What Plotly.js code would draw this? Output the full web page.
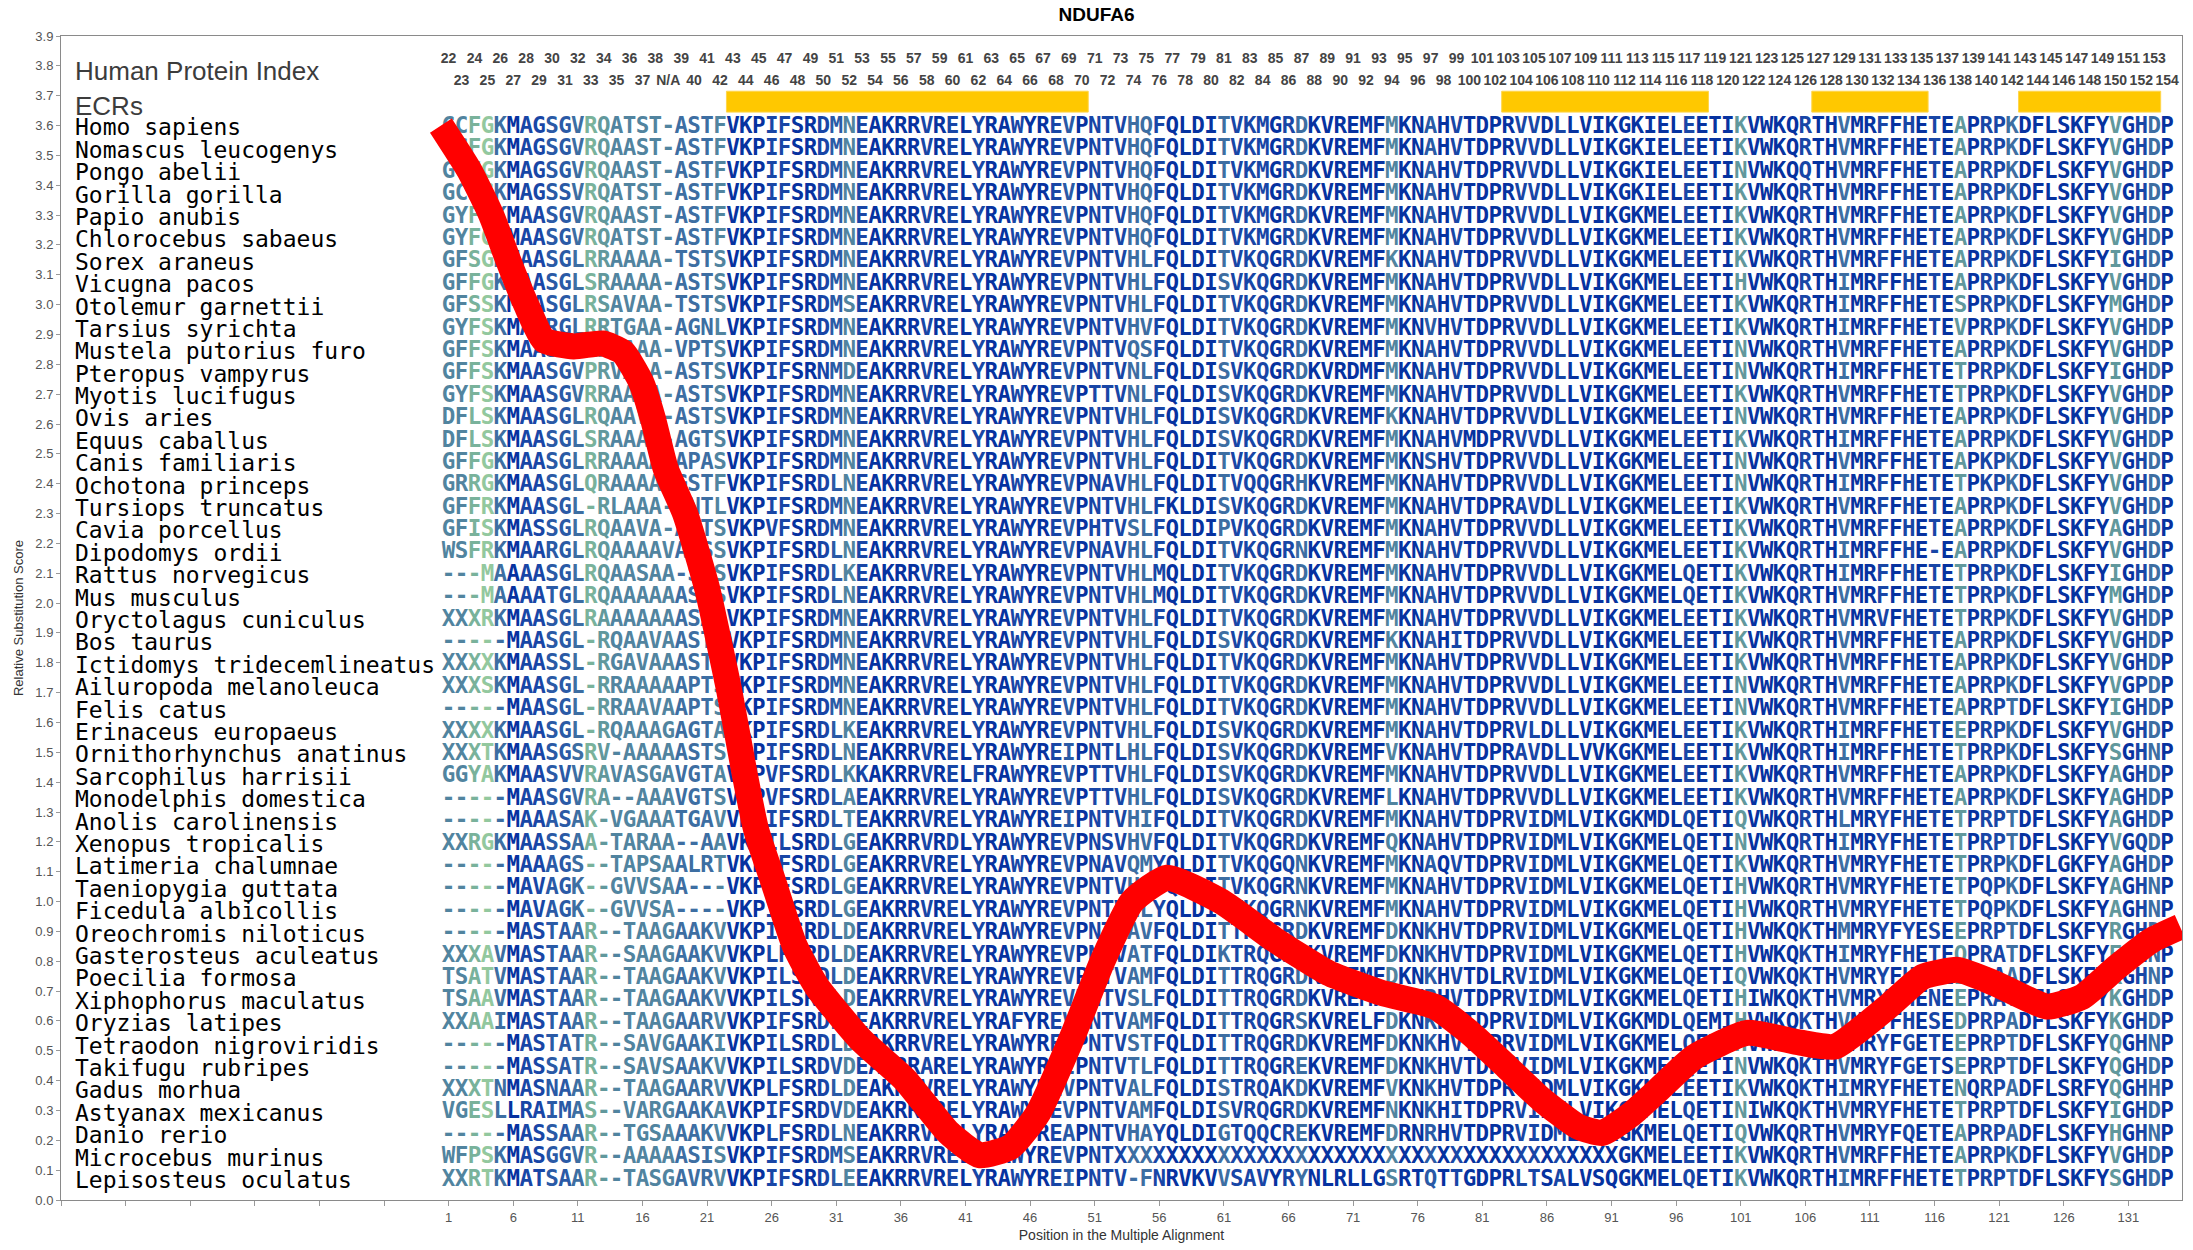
<!DOCTYPE html>
<html><head><meta charset="utf-8">
<script src="https://cdn.plot.ly/plotly-3.0.1.min.js"></script>
<style>html,body{margin:0;padding:0;background:#fff}#chart{width:2193px;height:1250px}</style>
</head><body><div id="chart"></div>
<script>
// ---------------- data ----------------
const species = ["Homo sapiens","Nomascus leucogenys","Pongo abelii","Gorilla gorilla","Papio anubis","Chlorocebus sabaeus","Sorex araneus","Vicugna pacos","Otolemur garnettii","Tarsius syrichta","Mustela putorius furo","Pteropus vampyrus","Myotis lucifugus","Ovis aries","Equus caballus","Canis familiaris","Ochotona princeps","Tursiops truncatus","Cavia porcellus","Dipodomys ordii","Rattus norvegicus","Mus musculus","Oryctolagus cuniculus","Bos taurus","Ictidomys tridecemlineatus","Ailuropoda melanoleuca","Felis catus","Erinaceus europaeus","Ornithorhynchus anatinus","Sarcophilus harrisii","Monodelphis domestica","Anolis carolinensis","Xenopus tropicalis","Latimeria chalumnae","Taeniopygia guttata","Ficedula albicollis","Oreochromis niloticus","Gasterosteus aculeatus","Poecilia formosa","Xiphophorus maculatus","Oryzias latipes","Tetraodon nigroviridis","Takifugu rubripes","Gadus morhua","Astyanax mexicanus","Danio rerio","Microcebus murinus","Lepisosteus oculatus"];

const sequences = [
"GCFGKMAGSGVRQATST-ASTF"+"VKPIFSRDMNEAKRRVRELYRAWYREVP"+"NTVHQFQLDITVKMGRDKVREMFMKNAHVTDPRVVDLLVIKGK"+"IELEETIKVWKQRTHVMRFFHETEAPRPKDFLSKFYVGHDP",
"GCFGKMAGSGVRQAAST-ASTF"+"VKPIFSRDMNEAKRRVRELYRAWYREVP"+"NTVHQFQLDITVKMGRDKVREMFMKNAHVTDPRVVDLLVIKGK"+"IELEETIKVWKQRTHVMRFFHETEAPRPKDFLSKFYVGHDP",
"GCFGKMAGSGVRQAAST-ASTF"+"VKPIFSRDMNEAKRRVRELYRAWYREVP"+"NTVHQFQLDITVKMGRDKVREMFMKNAHVTDPRVVDLLVIKGK"+"IELEETINVWKQQTHVMRFFHETEAPRPKDFLSKFYVGHDP",
"GCFGKMAGSSVRQATST-ASTF"+"VKPIFSRDMNEAKRRVRELYRAWYREVP"+"NTVHQFQLDITVKMGRDKVREMFMKNAHVTDPRVVDLLVIKGK"+"IELEETIKVWKQRTHVMRFFHETEAPRPKDFLSKFYVGHDP",
"GYFGKMAASGVRQAAST-ASTF"+"VKPIFSRDMNEAKRRVRELYRAWYREVP"+"NTVHQFQLDITVKMGRDKVREMFMKNAHVTDPRVVDLLVIKGK"+"MELEETIKVWKQRTHVMRFFHETEAPRPKDFLSKFYVGHDP",
"GYFGKMAASGVRQATST-ASTF"+"VKPIFSRDMNEAKRRVRELYRAWYREVP"+"NTVHQFQLDITVKMGRDKVREMFMKNAHVTDPRVVDLLVIKGK"+"MELEETIKVWKQRTHVMRFFHETEAPRPKDFLSKFYVGHDP",
"GFSGKMAASGLRRAAAA-TSTS"+"VKPIFSRDMNEAKRRVRELYRAWYREVP"+"NTVHLFQLDITVKQGRDKVREMFKKNAHVTDPRVVDLLVIKGK"+"MELEETIKVWKQRTHVMRFFHETEAPRPKDFLSKFYIGHDP",
"GFFGKMAASGLSRAAAA-ASTS"+"VKPIFSRDMNEAKRRVRELYRAWYREVP"+"NTVHLFQLDISVKQGRDKVREMFMKNAHVTDPRVVDLLVIKGK"+"MELEETIHVWKQRTHIMRFFHETEAPRPKDFLSKFYVGHDP",
"GFSSKMAASGLRSAVAA-TSTS"+"VKPIFSRDMSEAKRRVRELYRAWYREVP"+"NTVHLFQLDITVKQGRDKVREMFMKNAHVTDPRVVDLLVIKGK"+"MELEETIKVWKQRTHIMRFFHETESPRPKDFLSKFYMGHDP",
"GYFSKMAARGLRRTGAA-AGNL"+"VKPIFSRDMNEAKRRVRELYRAWYREVP"+"NTVHVFQLDITVKQGRDKVREMFMKNVHVTDPRVVDLLVIKGK"+"MELEETIKVWKQRTHIMRFFHETEVPRPKDFLSKFYVGHDP",
"GFFSKMAASGLRRAAAA-VPTS"+"VKPIFSRDMNEAKRRVRELYRAWYREVP"+"NTVQSFQLDITVKQGRDKVREMFMKNAHVTDPRVVDLLVIKGK"+"MELEETINVWKQRTHVMRFFHETEAPRPKDFLSKFYVGHDP",
"GFFSKMAASGVPRVAAA-ASTS"+"VKPIFSRNMDEAKRRVRELYRAWYREVP"+"NTVNLFQLDISVKQGRDKVRDMFMKNAHVTDPRVVDLLVIKGK"+"MELEETINVWKQRTHIMRFFHETETPRPKDFLSKFYIGHDP",
"GYFSKMAASGVRRAAAA-ASTS"+"VKPIFSRDMNEAKRRVRELYRAWYREVP"+"TTVNLFQLDISVKQGRDKVREMFMKNAHVTDPRVVDLLVIKGK"+"MELEETIKVWKQRTHVMRFFHETETPRPKDFLSKFYVGHDP",
"DFLSKMAASGLRQAAVA-ASTS"+"VKPIFSRDMNEAKRRVRELYRAWYREVP"+"NTVHLFQLDISVKQGRDKVREMFKKNAHVTDPRVVDLLVIKGK"+"MELEETINVWKQRTHVMRFFHETEAPRPKDFLSKFYVGHDP",
"DFLSKMAASGLSRAAAA-AGTS"+"VKPIFSRDMNEAKRRVRELYRAWYREVP"+"NTVHLFQLDISVKQGRDKVREMFMKNAHVMDPRVVDLLVIKGK"+"MELEETIKVWKQRTHIMRFFHETEAPRPKDFLSKFYVGHDP",
"GFFGKMAASGLRRAAAA-APAS"+"VKPIFSRDMNEAKRRVRELYRAWYREVP"+"NTVHLFQLDITVKQGRDKVREMFMKNSHVTDPRVVDLLVIKGK"+"MELEETINVWKQRTHVMRFFHETEAPKPKDFLSKFYVGHDP",
"GRRGKMAASGLQRAAAA-GSTF"+"VKPIFSRDLNEAKRRVRELYRAWYREVP"+"NAVHLFQLDITVQQGRHKVREMFMKNAHVTDPRVVDLLVIKGK"+"MELEETINVWKQRTHIMRFFHETETPKPKDFLSKFYVGHDP",
"GFFRKMAASGL-RLAAA-ANTL"+"VKPIFSRDMNEAKRRVRELYRAWYREVP"+"NTVHLFKLDISVKQGRDKVREMFMKNAHVTDPRAVDLLVIKGK"+"MELEETIKVWKQRTHVMRFFHETEAPRPKDFLSKFYVGHDP",
"GFISKMASSGLRQAAVA-AGTS"+"VKPVFSRDMNEAKRRVRELYRAWYREVP"+"HTVSLFQLDIPVKQGRDKVREMFMKNAHVTDPRVVDLLVIKGK"+"MELEETIKVWKQRTHVMRFFHETEAPRPKDFLSKFYAGHDP",
"WSFRKMAARGLRQAAAAVASSS"+"VKPIFSRDLNEAKRRVRELYRAWYREVP"+"NAVHLFQLDITVKQGRNKVREMFMKNAHVTDPRVVDLLVIKGK"+"MELEETIKVWKQRTHIMRFFHE-EAPRPKDFLSKFYVGHDP",
"---MAAAASGLRQAASAA-STS"+"VKPIFSRDLKEAKRRVRELYRAWYREVP"+"NTVHLMQLDITVKQGRDKVREMFMKNAHVTDPRVVDLLVIKGK"+"MELQETIKVWKQRTHIMRFFHETETPRPKDFLSKFYIGHDP",
"---MAAAATGLRQAAAAAASTS"+"VKPIFSRDLNEAKRRVRELYRAWYREVP"+"NTVHLMQLDITVKQGRDKVREMFMKNAHVTDPRVVDLLVIKGK"+"MELQETIKVWKQRTHVMRFFHETETPRPKDFLSKFYMGHDP",
"XXXRKMAASGLRAAAAAAASAS"+"VKPIFSRDMNEAKRRVRELYRAWYREVP"+"NTVHLFQLDITVKQGRDKVREMFMKNAHVTDPRVVDLLVIKGK"+"MELEETIKVWKQRTHVMRVFHETETPRPKDFLSKFYVGHDP",
"-----MAASGL-RQAAVAASTS"+"VKPIFSRDMNEAKRRVRELYRAWYREVP"+"NTVHLFQLDISVKQGRDKVREMFKKNAHITDPRVVDLLVIKGK"+"MELEETIKVWKQRTHVMRFFHETEAPRPKDFLSKFYVGHDP",
"XXXXKMAASSL-RGAVAAASTS"+"VKPIFSRDMNEAKRRVRELYRAWYREVP"+"NTVHLFQLDITVKQGRDKVREMFMKNAHVTDPRVVDLLVIKGK"+"MELEETIKVWKQRTHVMRFFHETEAPRPKDFLSKFYVGHDP",
"XXXSKMAASGL-RRAAAAAPTS"+"VKPIFSRDMNEAKRRVRELYRAWYREVP"+"NTVHLFQLDITVKQGRDKVREMFMKNAHVTDPRVVDLLVIKGK"+"MELEETINVWKQRTHVMRFFHETEAPRPKDFLSKFYVGPDP",
"-----MAASGL-RRAAVAAPTS"+"VKPIFSRDMNEAKRRVRELYRAWYREVP"+"NTVHLFQLDITVKQGRDKVREMFMKNAHVTDPRVVDLLVIKGK"+"MELEETINVWKQRTHVMRFFHETEAPRPTDFLSKFYIGHDP",
"XXXXKMAASGL-RQAAAGAGTA"+"VKPIFSRDLKEAKRRVRELYRAWYREVP"+"NTVHLFQLDISVKQGRDKVREMFMKNAHVTDPRVLDLLVIKGK"+"MELEETIKVWKQRTHIMRFFHETEEPRPKDFLSKFYVGHDP",
"XXXTKMAASGSRV-AAAAASTS"+"VRPIFSRDLNEAKRRVRELYRAWYREIP"+"NTLHLFQLDISVKQGRDKVREMFVKNAHVTDPRAVDLLVVKGK"+"MELEETIKVWKQRTHIMRFFHETETPRPKDFLSKFYSGHNP",
"GGYAKMAASVVRAVASGAVGTA"+"VKPVFSRDLKKAKRRVRELFRAWYREVP"+"TTVHLFQLDISVKQGRDKVREMFMKNAHVTDPRVVDLLVIKGK"+"MELEETIKVWKQRTHVMRFFHETEAPRPKDFLSKFYAGHDP",
"-----MAASGVRA--AAAVGTS"+"VKPVFSRDLAEAKRRVRELYRAWYREVP"+"TTVHLFQLDISVKQGRDKVREMFLKNAHVTDPRVVDLLVIKGK"+"MELEETIKVWKQRTHVMRFFHETEAPRPKDFLSKFYAGHDP",
"-----MAAASAK-VGAAATGAV"+"VKPIFSRDLTEAKRRVRELYRAWYREIP"+"NTVHIFQLDITVKQGRDKVREMFMKNAHVTDPRVIDMLVIKGK"+"MDLQETIQVWKQRTHLMRYFHETETPRPTDFLSKFYAGHDP",
"XXRGKMAASSAA-TARAA--AA"+"VKPILSRDLGEAKRRVRDLYRAWYREVP"+"NSVHVFQLDITVKQGRDKVREMFQKNAHVTDPRVIDMLVIKGK"+"MELQETINVWKQRTHIMRYFHETETPRPTDFLSKFYVGQDP",
"-----MAAAGS--TAPSAALRT"+"VKPIFSRDLGEAKRRVRELYRAWYREVP"+"NAVQMYQLDITVKQGQNKVREMFMKNAQVTDPRVIDMLVIKGK"+"MELQETIKVWKQRTHVMRYFHETETPRPKDFLGKFYAGHDP",
"-----MAVAGK--GVVSAA---"+"VKPIFSRDLGEAKRRVRELYRAWYREVP"+"NTVHLYQLDITVKQGRNKVREMFMKNAHVTDPRVIDMLVIKGK"+"MELQETIHVWKQRTHVMRYFHETETPQPKDFLSKFYAGHNP",
"-----MAVAGK--GVVSA----"+"VKPIFSRDLGEAKRRVRELYRAWYREVP"+"NTVHLYQLDITVKQGRNKVREMFMKNAHVTDPRVIDMLVIKGK"+"MELQETIHVWKQRTHVMRYFHETETPQPKDFLSKFYAGHNP",
"-----MASTAAR--TAAGAAKV"+"VKPIFSRDLDEAKRRVRELYRAWYREVP"+"NTVAVFQLDITTRQGRDKVREMFDKNKHVTDPRVIDMLVIKGK"+"MELQETIHVWKQKTHMMRYFYESEEPRPTDFLSKFYRGHDQ",
"XXXAVMASTAAR--SAAGAAKV"+"VKPLFSRDLDEAKRRVRELYRAWYREVP"+"NTVATFQLDIKTRQGRDKVREMFDKNKHVTDPRVIDMLVIKGK"+"MELQETIHVWKQKTHIMRYFHETEQPRATDFLSKFYEGHNP",
"TSATVMASTAAR--TAAGAAKV"+"VKPILSRDLDEAKRRVRELYRAWYREVP"+"NTVAMFQLDITTRQGRDKVREMFDKNKHVTDLRVIDMLVIKGK"+"MELQETIQVWKQKTHVMRYFHESEEPRAADFLSKFYKGHNP",
"TSAAVMASTAAR--TAAGAAKV"+"VKPILSRDLDEAKRRVRELYRAWYREVP"+"NTVSLFQLDITTRQGRDKVREMFDRNRHVTDPRVIDMLVIKGK"+"MELQETIHIWKQKTHVMRYFHENEEPRATDFLSKFYKGHDP",
"XXAAIMASTAAR--TAAGAARV"+"VKPIFSRDLDEAKRRVRELYRAFYREVP"+"NTVAMFQLDITTRQGRSKVRELFDKNKHVTDPRVIDMLVIKGK"+"MDLQEMIHVWKQKTHVMRYFHESEDPRPADFLSKFYKGHDP",
"-----MASTATR--SAVGAAKI"+"VKPILSRDLDEAKRRVRELYRAWYREIP"+"NTVSTFQLDITTRQGRDKVREMFDKNKHVTDPRVIDMLVIKGK"+"MELQETIHVWKQKTHIMRYFGETEEPRPTDFLSKFYQGHNP",
"-----MASSATR--SAVSAAKV"+"VKPILSRDVDEAKRRARELYRAWYREIP"+"NTVTLFQLDITTRQGREKVREMFDKNKHVTDPRVIDMLVIKGK"+"MELQETINVWKQKTHVMRYFGETSEPRPTDFLSKFYQGHDP",
"XXXTNMASNAAR--TAAGAARV"+"VKPLFSRDLDEAKRRVRELYRAWYREVP"+"NTVALFQLDISTRQAKDKVREMFVKNKHVTDPRVIDMLVIKGK"+"MELEETIKVWKQKTHIMRYFHETENQRPADFLSRFYQGHHP",
"VGESLLRAIMAS--VARGAAKA"+"VKPIFSRDVDEAKRRVRELYRAWYREVP"+"NTVAMFQLDISVRQGRDKVREMFNKNKHITDPRVIDMLVIKGK"+"MELQETINIWKQKTHVMRYFHETETPRPTDFLSKFYIGHDP",
"-----MASSAAR--TGSAAAKV"+"VKPLFSRDLNEAKRRVRELYRAWYREAP"+"NTVHAYQLDIGTQQCREKVREMFDRNRHVTDPRVIDMLVIKGK"+"MELQETIQVWKQRTHVMRYFQETEAPRPADFLSKFYHGHNP",
"WFPSKMASGGVR--AAAAASIS"+"VKPIFSRDMSEAKRRVRELYRAWYREVP"+"NTXXXXXXXXXXXXXXXXXXXXXXXXXXXXXXXXXXXXXXXGK"+"MELEETIKVWKQRTHVMRFFHETEAPRPKDFLSKFYVGHDP",
"XXRTKMATSAAR--TASGAVRV"+"VKPIFSRDLEEAKRRVRELYRAWYREIP"+"NTV-FNRVKVVSAVYRYNLRLLGSRTQTTGDPRLTSALVSQGK"+"MELQETIKVWKQRTHIMRFFHETETPRPTDFLSKFYSGHDP"
];

// conservation shade per alignment column (0 = fully conserved ... 7 = least)
const conservation = [
4,4,6,7,3,0,1,1,2,2,3,6,5,4,4,4,4,4,3,3,3,4,
0,0,0,1,1,0,0,1,2,4,1,0,0,0,0,1,0,1,0,1,0,0,1,0,0,1,2,0,
1,1,1,3,3,1,0,0,0,0,3,1,1,1,0,1,3,0,0,0,0,0,0,4,0,0,2,0,1,0,0,0,0,1,1,0,1,0,0,0,0,0,0,
0,0,0,1,0,0,0,5,0,0,0,0,1,0,0,3,0,0,1,0,1,0,1,0,5,0,1,1,3,0,0,0,0,0,0,0,5,0,1,3,0
];

// relative substitution score line (alignment position, score)
const linePositions = [0.4,2.6,4.3,5.6,7.0,8.4,10.7,12.9,14.5,15.9,16.8,17.8,19.3,21.0,22.7,23.9,24.8,26.1,27.8,29.5,32.9,36.3,39.7,42.1,44.5,46.6,49.3,51.6,53.9,56.6,60.8,64.9,69.1,73.2,77.3,80.1,82.9,85.6,88.4,90.3,92.6,94.4,97.4,101.5,105.6,108.3,112.4,115.1,117.8,120.6,124.7,127.4,130.1,132.8,135.0];
const lineScores    = [3.60,3.45,3.30,3.15,3.00,2.88,2.86,2.87,2.84,2.74,2.62,2.45,2.30,2.05,1.71,1.43,1.24,1.07,0.85,0.715,0.537,0.404,0.225,0.15,0.178,0.29,0.55,0.80,1.00,1.08,1.00,0.873,0.76,0.694,0.648,0.558,0.446,0.336,0.246,0.225,0.29,0.36,0.479,0.56,0.527,0.514,0.648,0.748,0.771,0.727,0.648,0.68,0.78,0.87,0.915];

// evolutionarily conserved regions (alignment columns)
const ecrStart = [23, 83, 107, 123];
const ecrEnd   = [50, 98, 115, 133];

const humanIndexStart = 22;
const xTickValues = [-29,-24,-19,-14,-9,-4,1,6,11,16,21,26,31,36,41,46,51,56,61,66,71,76,81,86,91,96,101,106,111,116,121,126,131];
const yTickValues = [0,0.1,0.2,0.3,0.4,0.5,0.6,0.7,0.8,0.9,1.0,1.1,1.2,1.3,1.4,1.5,1.6,1.7,1.8,1.9,2.0,2.1,2.2,2.3,2.4,2.5,2.6,2.7,2.8,2.9,3.0,3.1,3.2,3.3,3.4,3.5,3.6,3.7,3.8,3.9];

// ---------------- styles / layout constants ----------------
const shadeColors = ['#0632A0','#1846A6','#2A5AA6','#3D6EA2','#51849F','#61989C','#79B29B','#93C89E'];
const rowTop = 3.594, rowStep = 0.07504;
const idxRowA = 3.821, idxRowB = 3.748;
const nameX = -28.1;
const NARROW = 'Liberation Sans Narrow, Arial Narrow, Liberation Sans, Arial, sans-serif';

const nCols = 134;
// alignment letters
const lx = [], ly = [], lt = [], lc = [];
sequences.forEach((s, r) => {
  const seq = s.padEnd(nCols, ' ').slice(0, nCols);
  const y = rowTop - r * rowStep;
  for (let c = 0; c < nCols; c++) {
    if (seq[c] === ' ') continue;
    lx.push(c + 1); ly.push(y); lt.push(seq[c]);
    lc.push(shadeColors[conservation[c] || 0]);
  }
});

// human protein index labels (derived from human sequence)
const ix = [], iy = [], itx = [];
let counter = humanIndexStart;
for (let c = 0; c < nCols; c++) {
  let lab;
  if (sequences[0][c] === '-') lab = 'N/A'; else { lab = String(counter); counter++; }
  ix.push(c + 1); iy.push(c % 2 === 0 ? idxRowA : idxRowB); itx.push(lab);
}

const traces = [
  {
    type: 'bar', orientation: 'h',
    y: ecrStart.map(() => 3.68),
    base: ecrStart.map(s => s - 0.5),
    x: ecrStart.map((s, i) => ecrEnd[i] - s + 1),
    width: 0.07,
    marker: {color: '#FFC800', line: {color: '#FFD54A', width: 1}},
    hoverinfo: 'skip', showlegend: false
  },
  {
    type: 'scatter', mode: 'text', x: ix, y: iy, text: itx,
    textposition: 'middle center',
    textfont: {family: NARROW, size: 14, color: '#444444', weight: 700},
    hoverinfo: 'skip', showlegend: false, cliponaxis: false
  },
  {
    type: 'scatter', mode: 'text', x: lx, y: ly, text: lt,
    textposition: 'middle center',
    textfont: {family: 'DejaVu Sans Mono, monospace', size: 22.5, color: lc, weight: 700},
    hoverinfo: 'skip', showlegend: false
  },
  {
    type: 'scatter', mode: 'lines', x: linePositions, y: lineScores,
    line: {color: '#FF0000', width: 26, shape: 'spline', smoothing: 0.5},
    hoverinfo: 'skip', showlegend: false
  }
];

const annotations = species.map((name, r) => ({
  x: nameX, y: rowTop - r * rowStep, xref: 'x', yref: 'y', text: name,
  xanchor: 'left', yanchor: 'middle', showarrow: false,
  font: {family: 'DejaVu Sans Mono, monospace', size: 23, color: '#000000'}
}));
annotations.push({x: nameX, y: 3.782, xref: 'x', yref: 'y', text: 'Human Protein Index', xanchor: 'left', yanchor: 'middle', showarrow: false,
  font: {family: 'Liberation Sans, Arial, sans-serif', size: 26, color: '#3c3c3c'}});
annotations.push({x: nameX, y: 3.665, xref: 'x', yref: 'y', text: 'ECRs', xanchor: 'left', yanchor: 'middle', showarrow: false,
  font: {family: 'Liberation Sans, Arial, sans-serif', size: 26, color: '#3c3c3c'}});

const layout = {
  width: 2193, height: 1250,
  margin: {l: 61, r: 11, t: 36, b: 50, pad: 0},
  paper_bgcolor: '#ffffff', plot_bgcolor: '#ffffff',
  showlegend: false,
  title: {text: '<b>NDUFA6</b>', x: 0.5, xref: 'container', y: 1 - 14/1250, yref: 'container', yanchor: 'middle',
    font: {family: 'Liberation Sans, Arial, sans-serif', size: 19, color: '#000000'}},
  xaxis: {
    range: [-29, 135.15], tickmode: 'array', tickvals: xTickValues,
    ticktext: xTickValues.map(v => v > 0 ? String(v) : ''),
    ticks: 'outside', ticklen: 5, tickcolor: '#999999',
    showline: true, linecolor: '#8a8a8a', linewidth: 1, mirror: true,
    showgrid: false, zeroline: false,
    tickfont: {family: NARROW, size: 13, color: '#555555'},
    title: {text: 'Position in the Multiple Alignment', standoff: 6, font: {family: NARROW, size: 14, color: '#333333'}}
  },
  yaxis: {
    range: [0, 3.9], tickmode: 'array', tickvals: yTickValues,
    ticktext: yTickValues.map(v => v.toFixed(1)),
    ticks: 'outside', ticklen: 4, tickcolor: '#999999',
    showline: true, linecolor: '#8a8a8a', linewidth: 1, mirror: true,
    showgrid: false, zeroline: false,
    tickfont: {family: NARROW, size: 13, color: '#555555'},
    title: {text: 'Relative Substitution Score', standoff: 8, font: {family: NARROW, size: 13, color: '#333333'}}
  },
  annotations: annotations
};

Plotly.newPlot('chart', traces, layout, {displayModeBar: false, staticPlot: true});
</script>
</body></html>
